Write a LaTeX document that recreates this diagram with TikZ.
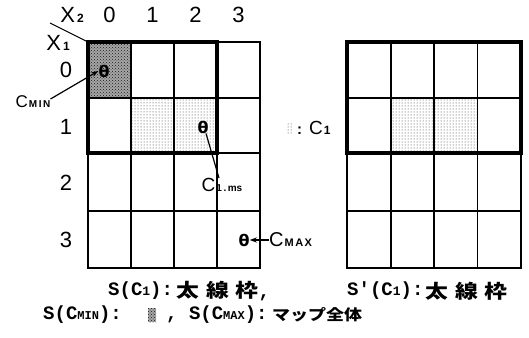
\documentclass[tikz,border=0pt]{standalone}
\usepackage{fontspec}
\setmainfont{Liberation Sans}
\newfontfamily\monof{Liberation Mono}
\newfontfamily\cjk[FakeStretch=1.2]{Noto Sans CJK JP}
\newfontfamily\symf{DejaVu Sans}
\usetikzlibrary{patterns,arrows.meta}
\newcommand\fsz[1]{\fontsize{#1}{#1}\selectfont}
\newcommand\smb[1]{{\bfseries\fsz{12}#1}}
\begin{document}
\begin{tikzpicture}[x=1pt,y=-1pt,
  lab/.style={font=\fsz{22}, inner sep=0pt},
  gridline/.style={line width=1.6pt},
  frame/.style={line width=3.2pt},
  mk/.style={font=\symf\bfseries\fsz{16}, inner sep=0pt},
  capm/.style={font=\monof\bfseries\fsz{19}, inner sep=0pt, anchor=west},
  capj/.style={font=\cjk\bfseries\fsz{19}, inner sep=0pt, anchor=west},
  conn/.style={line width=1.2pt},
  arr/.style={line width=1.2pt,-{Stealth[length=7pt,width=5pt]}},
  lightdots/.style={pattern=dots, pattern color=black!80},
  darkdots/.style={fill=black!35, postaction={pattern=crosshatch dots, pattern color=black!90}}
]
\fill[white] (0,0) rectangle (529,337);
\useasboundingbox (0,0) rectangle (529,337);

% ---------- left map ----------
\fill[darkdots] (88,42) rectangle (131,98);
\fill[lightdots] (131,98) rectangle (217,153);
\draw[gridline] (88,42) rectangle (260,268);
\foreach \x in {131,174,217} \draw[gridline] (\x,42) -- (\x,268);
\foreach \y in {98,153,211} \draw[gridline] (88,\y) -- (260,\y);
\draw[frame] (88,42) rectangle (217,153);

% headers
\node[lab] (x2) at (72,15) {X\kern2pt\smb{2}};
\node[lab] (h0) at (109.5,15) {0};
\node[lab] (h1) at (152.5,15) {1};
\node[lab] (h2) at (195.5,15) {2};
\node[lab] (h3) at (238.5,15) {3};
\node[lab] (x1) at (58,43) {X\kern2pt\smb{1}};
\node[lab] (r0) at (66,70) {0};
\node[lab] (r1) at (66,127) {1};
\node[lab] (r2) at (66,183) {2};
\node[lab] (r3) at (66,240) {3};
\coordinate (dg) at (50,23);
\coordinate (g00) at (88,42);
\draw[line width=1.1pt] (dg) -- (g00);

% markers
\node[mk] (m0) at (104,71) {θ};
\node[mk] (m1) at (203,127) {θ};
\node[mk] (m3) at (244,240) {θ};

% labels and connectors
\node[inner sep=0pt] (cmin) at (33,102) {\fsz{17}C\kern1pt{\bfseries\fsz{10}M\kern1.5pt I\kern1.5pt N}};
\draw[arr] ([yshift=3pt]cmin.east) -- (m0.west);
\node[inner sep=0pt] (c1ms) at (222,185) {\fsz{19}C\kern1pt{\bfseries\fsz{10}1\kern1.5pt.\kern1.5pt ms}};
\draw[conn] ([xshift=3pt]m1.south) -- ([xshift=-3pt]c1ms.north);
\node[inner sep=0pt, anchor=west] (cmax) at (269,240) {\fsz{20}C\kern1pt{\bfseries\fsz{11}M\kern1.5pt A\kern1.5pt X}};
\draw[arr] (cmax.west) -- (m3.east);

% legend
\fill[lightdots] (287,122) rectangle (293,133);
\node[inner sep=0pt, anchor=west] (leg) at (297,128) {\bfseries\fsz{15}:\kern7pt\mdseries\fsz{19}C\kern1pt\smb{1}};

% ---------- right map ----------
\fill[lightdots] (391,98) rectangle (477.5,153);
\draw[gridline] (347,42) rectangle (521,268);
\foreach \x in {391,434,477.5} \draw[gridline] (\x,42) -- (\x,268);
\foreach \y in {98,153,211} \draw[gridline] (347,\y) -- (521,\y);
\draw[frame] (347,42) rectangle (521,153);

% ---------- captions ----------
\node[capm] (c1a) at (108,291) {S(C{\fsz{13}1}):};
\node[capj] (c1b) at (176,291) {太\hspace{7pt}線\hspace{7pt}枠{\monof,}};
\node[capm] (c2a) at (347,291) {S'(C{\fsz{13}1}):};
\node[capj] (c2b) at (425,291) {太\hspace{7pt}線\hspace{7pt}枠};
\node[capm] (c3a) at (43,315) {S(C{\fsz{12}MIN}):};
\fill[darkdots] (148,308) rectangle (156,322);
\node[capm] (c3b) at (166,315) {, S(C{\fsz{12}MAX}):};
\node[capj, font=\cjk\bfseries\fsz{15}] (c3c) at (272,315) {マップ全体};
\end{tikzpicture}
\end{document}
